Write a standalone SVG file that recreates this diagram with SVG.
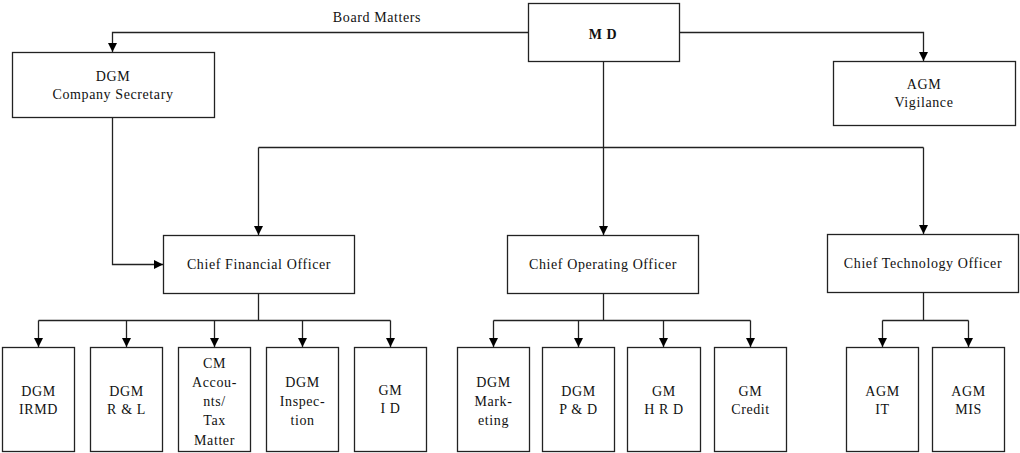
<svg xmlns="http://www.w3.org/2000/svg" width="1020" height="453" viewBox="0 0 1020 453">
<defs>
<marker id="arr" markerUnits="userSpaceOnUse" markerWidth="9" markerHeight="10" viewBox="0 0 10 10" refX="10" refY="5" orient="auto">
<path d="M0,0 L10,5 L0,10 z" fill="#000"/>
</marker>
<style>
.box{fill:#fff;stroke:#222;stroke-width:1.3}
.t{font-family:"Liberation Serif","Times New Roman",serif;font-size:14px;letter-spacing:0.6px;fill:#111;text-anchor:middle}
.b{font-weight:bold}
.c{fill:none;stroke:#222;stroke-width:1.3}
.ca{fill:none;stroke:#222;stroke-width:1.3;marker-end:url(#arr)}
</style>
</defs>
<rect width="1020" height="453" fill="#fff"/>

<g id="connectors">
<path class="ca" d="M528,32.5 H112.5 V52"/>
<path class="ca" d="M679,32.5 H923.5 V61"/>
<path class="ca" d="M603.5,61 V235"/>
<path class="c" d="M258.5,147.5 H923.5"/>
<path class="ca" d="M258.5,147.5 V235"/>
<path class="ca" d="M923.5,147.5 V234"/>
<path class="ca" d="M112.5,117 V264.5 H163"/>
<path class="c" d="M258.5,293 V320.5 M38.5,320.5 H390.5"/>
<path class="ca" d="M38.5,320.5 V347"/>
<path class="ca" d="M126.5,320.5 V347"/>
<path class="ca" d="M214.5,320.5 V347"/>
<path class="ca" d="M302.5,320.5 V347"/>
<path class="ca" d="M390.5,320.5 V347"/>
<path class="c" d="M603.5,293 V320.5 M493.5,320.5 H750.5"/>
<path class="ca" d="M493.5,320.5 V347"/>
<path class="ca" d="M578.5,320.5 V347"/>
<path class="ca" d="M663.5,320.5 V347"/>
<path class="ca" d="M750.5,320.5 V347"/>
<path class="c" d="M923.5,292 V320.5 M882.5,320.5 H968.5"/>
<path class="ca" d="M882.5,320.5 V347"/>
<path class="ca" d="M968.5,320.5 V347"/>
<text class="t" x="377" y="22">Board Matters</text>
</g>

<g id="md"><rect class="box" x="528.5" y="3.5" width="151" height="58"/><text class="t b" x="603" y="39">M D</text></g>
<g id="dgm-cs"><rect class="box" x="12.5" y="52.5" width="202" height="65"/><text class="t" x="113" y="81">DGM</text><text class="t" x="113" y="99">Company Secretary</text></g>
<g id="agm-vig"><rect class="box" x="833.5" y="61.5" width="182" height="64"/><text class="t" x="924" y="89">AGM</text><text class="t" x="924" y="107">Vigilance</text></g>

<g id="cfo"><rect class="box" x="163.5" y="235.5" width="191" height="58"/><text class="t" x="259" y="269">Chief Financial Officer</text></g>
<g id="coo"><rect class="box" x="507.5" y="235.5" width="191" height="58"/><text class="t" x="603" y="269">Chief Operating Officer</text></g>
<g id="cto"><rect class="box" x="827.5" y="234.5" width="191" height="58"/><text class="t" x="923" y="268">Chief Technology Officer</text></g>

<g id="dgm-irmd"><rect class="box" x="2.5" y="347.5" width="72" height="104"/><text class="t" x="38.5" y="396">DGM</text><text class="t" x="38.5" y="414">IRMD</text></g>
<g id="dgm-rl"><rect class="box" x="90.5" y="347.5" width="72" height="104"/><text class="t" x="126.5" y="396">DGM</text><text class="t" x="126.5" y="414">R &amp; L</text></g>
<g id="cm-acc"><rect class="box" x="178.5" y="347.5" width="72" height="104"/><text class="t" x="214.5" y="368">CM</text><text class="t" x="214.5" y="387">Accou-</text><text class="t" x="214.5" y="406">nts/</text><text class="t" x="214.5" y="425">Tax</text><text class="t" x="214.5" y="445">Matter</text></g>
<g id="dgm-insp"><rect class="box" x="266.5" y="347.5" width="72" height="104"/><text class="t" x="302.5" y="387">DGM</text><text class="t" x="302.5" y="406">Inspec-</text><text class="t" x="302.5" y="425">tion</text></g>
<g id="gm-id"><rect class="box" x="354.5" y="347.5" width="72" height="104"/><text class="t" x="390.5" y="395">GM</text><text class="t" x="390.5" y="413">I D</text></g>

<g id="dgm-mkt"><rect class="box" x="457.5" y="347.5" width="72" height="104"/><text class="t" x="493.5" y="387">DGM</text><text class="t" x="493.5" y="406">Mark-</text><text class="t" x="493.5" y="425">eting</text></g>
<g id="dgm-pd"><rect class="box" x="542.5" y="347.5" width="72" height="104"/><text class="t" x="578.5" y="396">DGM</text><text class="t" x="578.5" y="414">P &amp; D</text></g>
<g id="gm-hrd"><rect class="box" x="627.5" y="347.5" width="73" height="104"/><text class="t" x="664" y="396">GM</text><text class="t" x="664" y="414">H R D</text></g>
<g id="gm-credit"><rect class="box" x="714.5" y="347.5" width="72" height="104"/><text class="t" x="750.5" y="396">GM</text><text class="t" x="750.5" y="414">Credit</text></g>

<g id="agm-it"><rect class="box" x="846.5" y="347.5" width="72" height="104"/><text class="t" x="882.5" y="396">AGM</text><text class="t" x="882.5" y="414">IT</text></g>
<g id="agm-mis"><rect class="box" x="932.5" y="347.5" width="72" height="104"/><text class="t" x="968.5" y="396">AGM</text><text class="t" x="968.5" y="414">MIS</text></g>
</svg>
